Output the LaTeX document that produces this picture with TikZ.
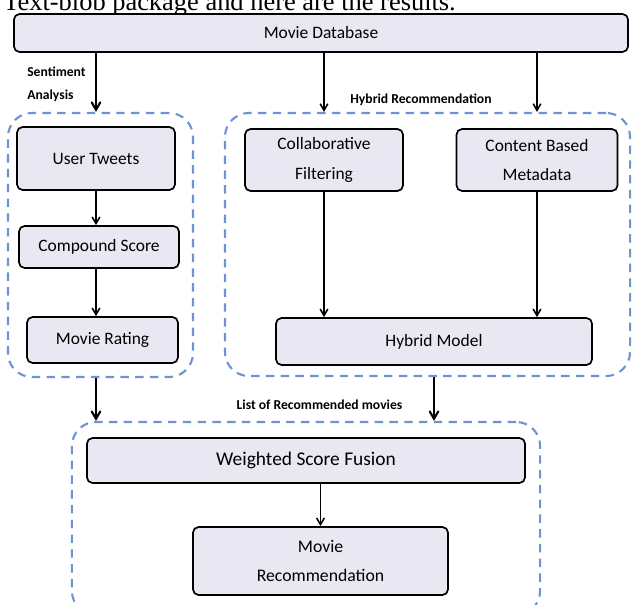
\documentclass[tikz,border=0pt]{standalone}
\usepackage{fontspec}
\setmainfont{Carlito}
\newfontfamily\pagefont{Liberation Serif}
\usepackage{tikz}
\usetikzlibrary{shapes,arrows}
\definecolor{boxfill}{HTML}{E9E7F1}
\definecolor{grpblue}{HTML}{6C94D4}
\tikzset{
  block/.style={draw=black, line width=1.2pt, fill=boxfill, rounded corners=4pt,
    align=center, inner sep=0pt, font=\fontsize{12.4}{21}\selectfont},
  group/.style={draw=grpblue, line width=1.5pt, dash pattern=on 6pt off 4.5pt,
    rounded corners=0.6cm, inner sep=0pt},
  lbl/.style={font=\bfseries\fontsize{9.7}{16.4}\selectfont, inner sep=0pt, align=left},
  flow/.style={->, >=angle 60, line width=1.1pt},
  bigflow/.style={->, >=angle 60, line width=1.5pt}
}

\begin{document}
\begin{tikzpicture}[x=0.025cm,y=-0.025cm]
    \useasboundingbox (0,0) rectangle (632,605);

    % Text of the page above the figure (cut off)
    \node [anchor=base west, inner sep=0pt, font=\pagefont\fontsize{18.8}{22}\selectfont]
        (pagetxt) at (3,11) {Text-blob package and here are the results.};

    % Draw the dashed groups
    \node [group, minimum width=4.625cm, minimum height=6.6cm] (sentgrp) at (100.5,245) {};
    \node [group, minimum width=10.125cm, minimum height=6.575cm] (hybgrp) at (427.5,244.5) {};
    \node [group, minimum width=11.7cm, minimum height=4.825cm] (fusgrp) at (306,518.5) {};

    % Draw the blocks
    \node [block, minimum width=15.35cm, minimum height=0.95cm] (db) at (321,33) {Movie Database};
    \node [block, minimum width=3.95cm, minimum height=1.575cm] (tweets) at (96,158.5) {User Tweets};
    \node [block, minimum width=4cm, minimum height=1.05cm] (compound) at (99,247) {Compound Score};
    \node [block, minimum width=3.775cm, minimum height=1.15cm] (rating) at (102.5,340) {Movie Rating};
    \node [block, minimum width=3.95cm, minimum height=1.55cm] (collab) at (324,160) {Collaborative\\Filtering};
    \node [block, minimum width=4.025cm, minimum height=1.55cm] (content) at (537,160) {Content Based\\Metadata};
    \node [block, minimum width=7.9cm, minimum height=1.175cm] (hybrid) at (434,341.5) {Hybrid Model};
    \node [block, minimum width=10.95cm, minimum height=1.125cm,
        font=\fontsize{13.8}{16}\selectfont] (fusion) at (306,460.5) {Weighted Score Fusion};
    \node [block, minimum width=6.375cm, minimum height=1.7cm,
        font=\fontsize{12.6}{20.6}\selectfont] (movierec) at (320.5,561) {Movie\\Recommendation};

    % Draw the labels
    \node [lbl, anchor=west] (sentlbl) at (27,84.5) {Sentiment\\Analysis};
    \node [lbl] (hyblbl) at (421,100) {Hybrid Recommendation};
    \node [lbl] (listlbl) at (319.5,405) {List of Recommended movies};

    % Draw the arrows
    \draw [bigflow] (db.south -| tweets) -- (tweets |- sentgrp.north);
    \draw [flow] (db.south -| collab) -- (collab |- hybgrp.north);
    \draw [flow] (db.south -| content) -- (content |- hybgrp.north);
    \draw [flow] (tweets.south) -- (tweets |- compound.north);
    \draw [flow] (compound.south -| tweets) -- (tweets |- rating.north);
    \draw [flow] (collab.south) -- (collab |- hybrid.north);
    \draw [flow] (content.south) -- (content |- hybrid.north);
    \draw [bigflow] (sentgrp.south -| tweets) -- (tweets |- fusgrp.north);
    \draw [bigflow] (hybrid |- hybgrp.south) -- (hybrid |- fusgrp.north);
    \draw [flow] (movierec |- fusion.south) -- (movierec.north);

\end{tikzpicture}
\end{document}
